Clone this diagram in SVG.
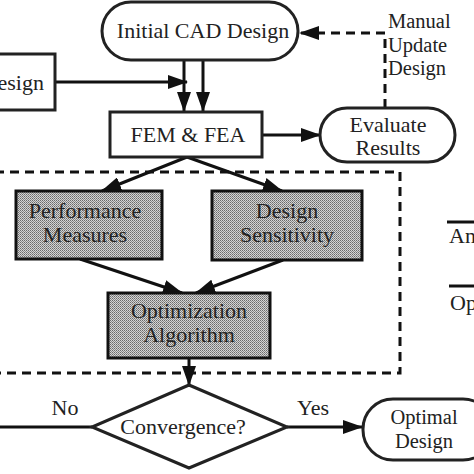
<svg xmlns="http://www.w3.org/2000/svg" width="474" height="474" viewBox="0 0 474 474">
<style>
text{font-family:"Liberation Serif","Times New Roman",serif;font-size:22px;fill:#222;text-anchor:middle}
.sm{font-size:20.5px}
.box{fill:#fff;stroke:#222;stroke-width:3}
.sh{fill:url(#dots);stroke:#111;stroke-width:3}
.ln{fill:none;stroke:#111;stroke-width:3}
.dash{fill:none;stroke:#111;stroke-width:3;stroke-dasharray:9 6}
</style>
<defs>
<pattern id="dots" width="2" height="2" patternUnits="userSpaceOnUse">
<rect width="2" height="2" fill="#d4d4d4"/>
<rect width="1" height="1" fill="#6a6a6a"/>
<rect x="1" y="1" width="1" height="1" fill="#8a8a8a"/>
</pattern>
<marker id="ah" markerWidth="20" markerHeight="14" refX="19" refY="7" orient="auto" markerUnits="userSpaceOnUse">
<path d="M0,0 L20,7 L0,14 Z" fill="#111"/>
</marker>
</defs>
<g id="connectors">
<path class="ln" d="M55 82 H187" marker-end="url(#ah)"/>
<path class="ln" d="M184 60 V111" marker-end="url(#ah)"/>
<path class="ln" d="M203 60 V111" marker-end="url(#ah)"/>
<path class="ln" d="M262 135 H320" marker-end="url(#ah)"/>
<path class="dash" d="M385 108 V33 H300" marker-end="url(#ah)"/>
<path class="ln" d="M187 157 L102 191" marker-end="url(#ah)"/>
<path class="ln" d="M187 157 L282 191" marker-end="url(#ah)"/>
<path class="ln" d="M80 259 L182 293" marker-end="url(#ah)"/>
<path class="ln" d="M283 260 L196 293" marker-end="url(#ah)"/>
<path class="ln" d="M189 358 V385" marker-end="url(#ah)"/>
<path class="ln" d="M0 427 H92"/>
<path class="ln" d="M287 427 H362" marker-end="url(#ah)"/>
<text x="65" y="415">No</text>
<text x="313" y="415">Yes</text>
</g>
<g id="frame">
<path class="dash" d="M-5 172 H400 V373 H-5"/>
</g>
<g id="initial-cad">
<rect class="box" x="102" y="2" width="196" height="58" rx="29" ry="29"/>
<text x="203" y="38">Initial CAD Design</text>
</g>
<g id="design-left">
<rect class="box" x="-10" y="54" width="65" height="56"/>
<text x="44" y="90" style="text-anchor:end">esign</text>
</g>
<g id="fem-fea">
<rect class="box" x="110" y="112" width="152" height="45"/>
<text x="188" y="142">FEM &amp; FEA</text>
</g>
<g id="evaluate">
<rect class="box" x="320" y="108" width="135" height="54" rx="27" ry="27"/>
<text x="388" y="132">Evaluate</text>
<text x="388" y="155">Results</text>
</g>
<g id="manual-update">
<text class="sm" x="388" y="28" style="text-anchor:start">Manual</text>
<text class="sm" x="388" y="52" style="text-anchor:start">Update</text>
<text class="sm" x="388" y="75" style="text-anchor:start">Design</text>
</g>
<g id="performance">
<rect class="sh" x="16" y="191" width="146" height="68"/>
<text x="85" y="218">Performance</text>
<text x="85" y="242">Measures</text>
</g>
<g id="sensitivity">
<rect class="sh" x="212" y="191" width="150" height="69"/>
<text x="287" y="218">Design</text>
<text x="287" y="242">Sensitivity</text>
</g>
<g id="optimization">
<rect class="sh" x="108" y="293" width="162" height="65"/>
<text x="189" y="318">Optimization</text>
<text x="189" y="342">Algorithm</text>
</g>
<g id="convergence">
<path class="box" d="M189 385 L287 427 L189 468 L92 427 Z"/>
<text x="183" y="434">Convergence?</text>
</g>
<g id="optimal">
<rect class="box" x="363" y="399" width="130" height="61" rx="30" ry="30"/>
<text class="sm" x="424" y="424">Optimal</text>
<text class="sm" x="424" y="448">Design</text>
</g>
<g id="legend">
<path class="ln" d="M447 222 H476"/>
<text x="449" y="243" style="text-anchor:start">An</text>
<path class="ln" d="M449 286 H476"/>
<text x="450" y="310" style="text-anchor:start">Op</text>
</g>
</svg>
